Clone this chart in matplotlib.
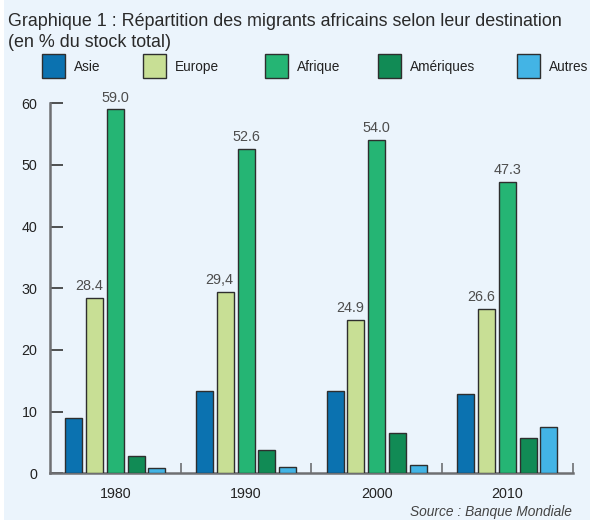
import matplotlib
matplotlib.use("Agg")
import matplotlib.pyplot as plt
from matplotlib.patches import Rectangle
import numpy as np

plt.rcParams['font.family'] = ['Liberation Sans', 'DejaVu Sans']

# Data (% of total stock of African migrants)
years = ["1980", "1990", "2000", "2010"]
series = ["Asie", "Europe", "Afrique", "Amériques", "Autres"]
asie = [9.0, 13.4, 13.3, 12.8]
europe = [28.4, 29.4, 24.9, 26.6]
afrique = [59.0, 52.6, 54.0, 47.3]
ameriques = [2.8, 3.7, 6.5, 5.8]
autres = [0.8, 1.0, 1.4, 7.5]
europe_labels = ["28.4", "29,4", "24.9", "26.6"]
afrique_labels = ["59.0", "52.6", "54.0", "47.3"]

colors = ["#0b72b0", "#c8df95", "#25b574", "#118b55", "#43b4e5"]
bg = "#ebf4fc"
edge = "#2e2e2e"
grey = "#6e6f72"

fig = plt.figure(figsize=(5.90, 5.23), dpi=100, facecolor="white")
fig.patches.append(Rectangle((4 / 590, 3 / 523), 1, 1, transform=fig.transFigure,
                             facecolor=bg, edgecolor="none", zorder=-10))

ax = fig.add_axes([50 / 590, 49.7 / 523, 522.7 / 590, 370 / 523])
ax.patch.set_alpha(0)

x = np.arange(len(years))
step = 0.159
width = 0.13
values = [asie, europe, afrique, ameriques, autres]
bars = []
for i, vals in enumerate(values):
    b = ax.bar(x + (i - 2) * step, vals, width=width, color=colors[i],
               edgecolor=edge, linewidth=1.0, zorder=3)
    bars.append(b)

# value labels
for rect, lab in zip(bars[1], europe_labels):
    ax.annotate(lab, (rect.get_x() + rect.get_width(), rect.get_height()),
                xytext=(0, 3.5), textcoords="offset points", ha="right", va="bottom",
                fontsize=10.4, color="#4d4d4d", annotation_clip=False)
for rect, lab in zip(bars[2], afrique_labels):
    ax.annotate(lab, (rect.get_x() + rect.get_width() / 2, rect.get_height()),
                xytext=(0, 3.5), textcoords="offset points", ha="center", va="bottom",
                fontsize=10.4, color="#4d4d4d", annotation_clip=False)

ax.set_xlim(-0.5, 3.5)
ax.set_ylim(0, 60)
ax.set_yticks(range(0, 61, 10))
ax.tick_params(axis="y", direction="in", length=9.4, width=1.2, color="#333333",
               pad=9.0, labelsize=10.3, labelcolor="#222222")

ax.set_xticks([0.5, 1.5, 2.5, 3.5])
ax.set_xticklabels([])
ax.tick_params(axis="x", which="major", direction="in", length=7.2, width=1.2, color=grey)
ax.set_xticks(x, minor=True)
ax.set_xticklabels(years, minor=True)
ax.tick_params(axis="x", which="minor", length=0, pad=10.0, labelsize=10.3, labelcolor="#222222")

for s in ["top", "right"]:
    ax.spines[s].set_visible(False)
for s in ["left", "bottom"]:
    ax.spines[s].set_color(grey)
    ax.spines[s].set_linewidth(1.8)

# title
fig.text(8 / 590, 1 - 26 / 523, "Graphique 1 : Répartition des migrants africains selon leur destination",
         fontsize=12.9, color="#2a2a2a", va="baseline", ha="left")
fig.text(8 / 590, 1 - 47 / 523, "(en % du stock total)",
         fontsize=12.9, color="#2a2a2a", va="baseline", ha="left")

# legend
leg_x = [42, 143, 265, 378, 517]
for px, name, c in zip(leg_x, series, colors):
    fig.patches.append(Rectangle((px / 590, 1 - 78 / 523), 22.5 / 590, 24 / 523,
                                 transform=fig.transFigure, facecolor=c,
                                 edgecolor=edge, linewidth=1.0))
    fig.text((px + 32) / 590, 1 - 67 / 523, name, fontsize=9.8, color="#222222",
             va="center", ha="left")

fig.text(572 / 590, 1 - 512 / 523, "Source : Banque Mondiale", fontsize=9.9,
         style="italic", color="#444444", ha="right", va="center")

fig.savefig("out.png", dpi=100, facecolor=fig.get_facecolor())
